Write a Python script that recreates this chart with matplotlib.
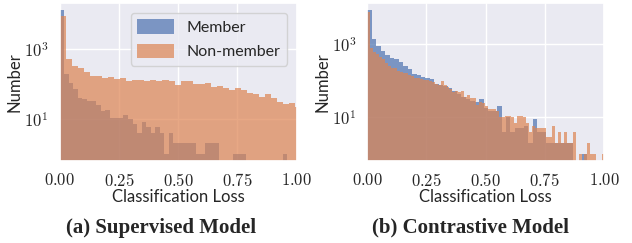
import numpy as np
import matplotlib
matplotlib.use('Agg')
import matplotlib.pyplot as plt
import seaborn as sns
from matplotlib.ticker import FuncFormatter, FixedLocator

# ---- histogram counts ----
# (a) supervised model
sup_member_range = (0.0, 0.96)
sup_member_counts = [13500, 195, 108, 73, 40, 37, 33, 33, 25, 17,
                     18, 11, 11, 11, 13, 10, 7, 4, 8, 6,
                     4, 6, 4, 1, 4, 2, 2, 2, 2, 2,
                     1, 1, 2, 2, 2, 0, 0, 0, 1, 1,
                     1, 0, 0, 0, 0, 0, 0, 0, 0, 1]
sup_nonmember_range = (0.0, 1.02)
sup_nonmember_counts = [9100, 515, 331, 284, 224, 178, 171, 150, 157, 141,
                        147, 123, 131, 130, 125, 130, 128, 130, 125, 96,
                        123, 123, 100, 103, 106, 86, 88, 78, 68, 78,
                        68, 55, 51, 44, 52, 41, 31, 28, 29, 22]

# (b) contrastive model
con_member_range = (0.0, 0.945)
con_member_counts = [8500, 1365, 870, 630, 490, 415, 380, 322, 250, 210,
                     148, 142, 125, 120, 110, 82, 78, 74, 64, 52,
                     44, 37, 32, 28, 27, 32, 18, 15, 15, 20,
                     4, 10, 4, 5, 5, 6, 2, 9, 4, 4,
                     2, 2, 2, 2, 2, 2, 0, 0, 1, 0]
con_nonmember_range = (0.0, 1.0044)
con_nonmember_counts = [7600, 760, 615, 520, 450, 390, 295, 255, 218, 218,
                        187, 175, 165, 165, 142, 131, 115, 115, 113, 104,
                        102, 98, 90, 82, 78, 98, 76, 67, 59, 50,
                        53, 50, 53, 36, 41, 34, 34, 22, 26, 24,
                        20, 17, 17, 17, 15, 10, 10, 11, 11, 10,
                        7, 11, 11, 10, 7, 4, 6, 5, 5, 5,
                        5, 3, 3, 6, 2, 4, 2, 4, 2, 2,
                        4, 0, 1, 0, 1, 2, 1, 1, 0, 0,
                        1]

xticks = [0.0, 0.25, 0.5, 0.75, 1.0]
yticks = [10, 1000]
captions = ['(a) Supervised Model', '(b) Contrastive Model']

sns.set_theme(style='darkgrid')
plt.rcParams['font.family'] = ['Lato', 'DejaVu Sans']
plt.rcParams['mathtext.fontset'] = 'cm'

blue = '#4C72B0'
orange = '#DD8452'


def draw(ax, m_counts, m_range, n_counts, n_range, ylim):
    m_edges = np.linspace(m_range[0], m_range[1], len(m_counts) + 1)
    n_edges = np.linspace(n_range[0], n_range[1], len(n_counts) + 1)
    ax.hist(m_edges[:-1], bins=m_edges, weights=m_counts, log=True,
            color=blue, alpha=0.7, linewidth=0, label='Member')
    ax.hist(n_edges[:-1], bins=n_edges, weights=n_counts, log=True,
            color=orange, alpha=0.7, linewidth=0, label='Non-member')
    ax.set_xlim(0, 1)
    ax.set_ylim(*ylim)
    ax.xaxis.set_major_locator(FixedLocator(xticks))
    ax.yaxis.set_major_locator(FixedLocator(yticks))
    ax.yaxis.set_minor_locator(FixedLocator([]))
    ax.xaxis.set_major_formatter(FuncFormatter(lambda v, p: r'$%.2f$' % v))
    ax.yaxis.set_major_formatter(
        FuncFormatter(lambda v, p: r'$10^{%d}$' % round(np.log10(v))))
    ax.tick_params(labelsize=12, pad=2)
    ax.set_xlabel('Classification Loss', fontsize=12, labelpad=0)
    ax.set_ylabel('Number', fontsize=12, labelpad=1)


fig = plt.figure(figsize=(6.32, 2.43), dpi=100)
ax1 = fig.add_axes([0.0945, 0.3387, 0.375, 0.6477])
ax2 = fig.add_axes([0.5812, 0.3387, 0.3745, 0.6477])

draw(ax1, sup_member_counts, sup_member_range,
     sup_nonmember_counts, sup_nonmember_range, (0.64, 21000))
draw(ax2, con_member_counts, con_member_range,
     con_nonmember_counts, con_nonmember_range, (0.66, 12900))

ax1.legend(loc='upper right', fontsize=11.5, borderaxespad=0.6,
           handlelength=2.3, handleheight=1.0, labelspacing=0.55)

fig.text(0.255, 0.062, captions[0], ha='center', va='center',
         fontsize=15, fontweight='bold', family='Liberation Serif')
fig.text(0.745, 0.062, captions[1], ha='center', va='center',
         fontsize=15, fontweight='bold', family='Liberation Serif')

fig.savefig('out.png', dpi=100)
